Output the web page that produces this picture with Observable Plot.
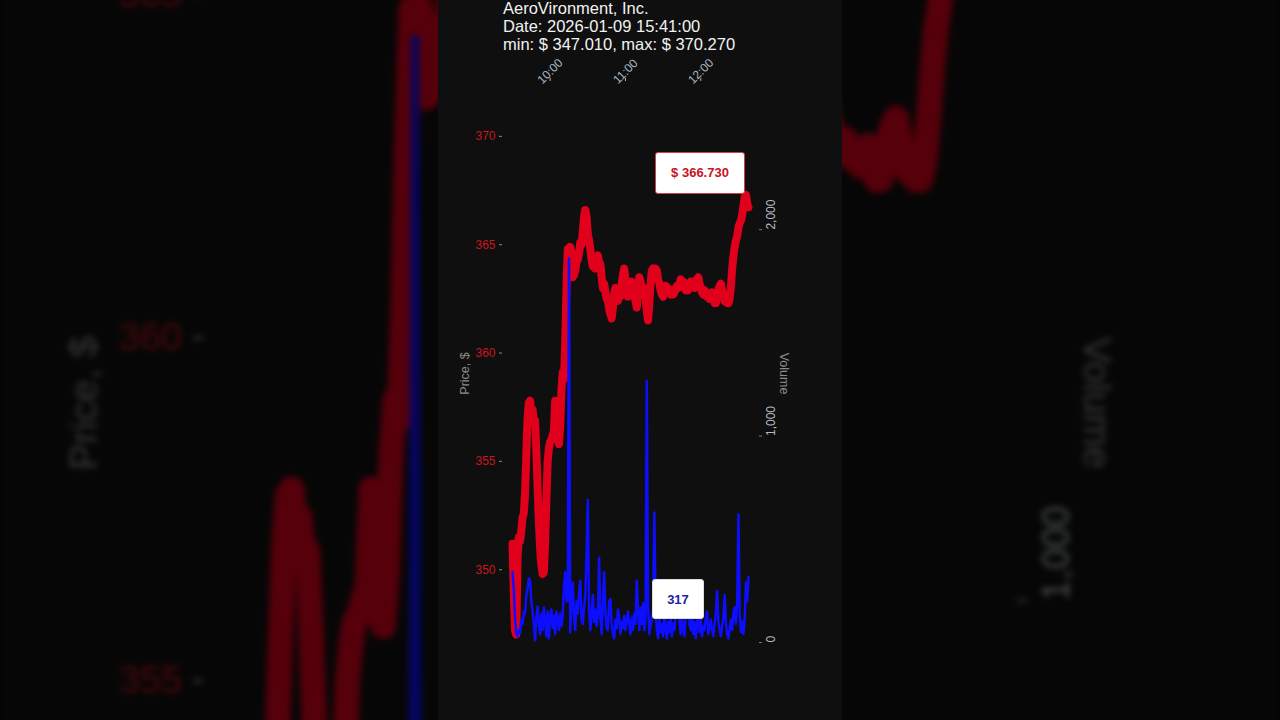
<!DOCTYPE html>
<html>
<head>
<meta charset="utf-8">
<script src="https://cdn.jsdelivr.net/npm/d3@7"></script>
<script src="https://cdn.jsdelivr.net/npm/@observablehq/plot@0.6"></script>
<style>
  html, body { margin: 0; padding: 0; width: 1280px; height: 720px; overflow: hidden; background: #000; }
  body { font-family: "Liberation Sans", Arial, sans-serif; }
  #bg { position: absolute; left: 438px; top: 0; width: 404px; height: 720px;
        transform: scale(3.1683); transform-origin: 202px 360px;
        filter: brightness(0.38) blur(1px); }
  #main { position: absolute; left: 438px; top: 0; width: 404px; height: 720px; overflow: hidden; }
  .panel { position: relative; width: 404px; height: 720px; background: #0f0f0f; overflow: hidden; }
  .panel svg { position: absolute; left: 0; top: 0; }
  .title { position: absolute; left: 65px; top: -1px; color: #f2f2f2; font-size: 16.5px; line-height: 18px; white-space: nowrap; }
  .box { position: absolute; background: #fff; border-radius: 3px; display: flex; align-items: center; justify-content: center;
         font-weight: bold; font-size: 13px; box-sizing: border-box; }
</style>
</head>
<body>
<div id="bg"></div>
<div id="main"></div>
<script>
// ---- data ----
const company = "AeroVironment, Inc.";
const dateLabel = "Date: 2026-01-09 15:41:00";
const rangeLabel = "min: $ 347.010, max: $ 370.270";
const priceAxisLabel = "Price, $";
const volumeAxisLabel = "Volume";
const startTime = "2026-01-09T09:30:00Z";
const endTime = "2026-01-09T12:38:00Z";
const xTickLabels = ["10:00", "11:00", "12:00"];
const priceTicks = [350, 355, 360, 365, 370];
const volumeTicks = [0, 1000, 2000];
const priceDomain = [347.01, 370.27];
const volumeDomain = [0, 2480];
const lastPriceLabel = "$ 366.730";
const lastVolumeLabel = "317";

// one value per minute from 09:30
const prices = [
  351.2, 349.0, 347.2, 347.01, 350.5, 351.5, 351.3, 351.8, 352.4, 352.6,
  353.5, 355.3, 357.0, 357.7, 357.8, 357.3, 357.4, 356.8, 356.9, 355.5,
  353.8, 352.2, 351.0, 350.2, 349.8, 349.9, 351.3, 353.2, 355.0, 355.6,
  355.9, 356.0, 356.2, 356.4, 357.8, 357.5, 356.0, 355.8, 356.6, 358.3,
  359.1, 358.8, 360.5, 363.0, 364.8, 364.5, 364.9, 364.6, 363.5, 363.6,
  363.8, 364.2, 364.3, 364.6, 365.1, 365.0, 365.6, 366.3, 366.6, 366.3,
  365.5, 365.2, 364.8, 364.3, 364.0, 364.1, 363.9, 364.4, 364.5, 364.2,
  364.1, 363.5, 363.0, 363.2, 362.8, 362.5, 362.4, 362.0, 361.8, 361.6,
  362.1, 362.7, 363.0, 362.6, 362.4, 362.8, 362.6, 363.2, 363.6, 363.9,
  363.4, 362.9, 362.6, 362.9, 363.1, 363.3, 363.2, 362.7, 362.4, 362.1,
  362.8, 363.5, 363.3, 363.0, 362.9, 363.0, 362.5, 361.9, 361.5, 362.3,
  363.2, 363.8, 363.9, 363.7, 363.9, 363.8, 363.4, 363.2, 362.9, 362.7,
  362.6, 362.9, 363.1, 363.0, 363.0, 362.8, 362.7, 362.9, 362.7, 362.8,
  363.0, 363.1, 363.0, 363.2, 363.4, 363.2, 363.3, 363.0, 362.9, 363.0,
  362.9, 363.1, 363.3, 363.1, 363.3, 363.0, 363.2, 363.4, 363.5, 363.2,
  363.0, 362.8, 362.7, 362.9, 362.8, 362.6, 362.7, 362.5, 362.6, 362.8,
  362.5, 362.3, 362.3, 362.6, 362.9, 363.1, 363.2, 362.9, 362.6, 362.4,
  362.4, 362.3, 362.3, 362.5, 363.1, 363.9, 364.5, 364.9, 365.2, 365.4,
  365.8, 366.0, 366.1, 366.4, 366.8, 367.2, 367.3, 366.9, 366.73
];
const volumes = [
  340, 260, 120, 40, 30, 60, 45, 110, 90, 150,
  140, 230, 260, 310, 300, 200, 150, 90, 10, 120,
  175, 90, 40, 140, 60, 170, 110, 30, 150, 20,
  120, 160, 70, 130, 40, 150, 110, 60, 140, 80,
  130, 270, 340, 200, 200, 1860, 50, 200, 290, 120,
  60, 200, 140, 240, 300, 110, 90, 170, 230, 420,
  690, 160, 60, 140, 230, 100, 160, 80, 140, 410,
  120, 40, 190, 340, 150, 70, 60, 200, 210, 90,
  40, 20, 110, 70, 160, 120, 40, 100, 70, 130,
  60, 110, 150, 90, 40, 120, 60, 140, 90, 300,
  150, 60, 170, 90, 190, 60, 120, 1265, 180, 40,
  80, 120, 160, 630, 150, 60, 20, 110, 50, 90,
  30, 140, 60, 20, 100, 50, 130, 30, 90, 60,
  150, 180, 300, 100, 40, 120, 70, 30, 140, 200,
  300, 90, 60, 130, 40, 100, 20, 90, 140, 50,
  110, 30, 80, 60, 120, 150, 40, 80, 110, 60,
  30, 90, 140, 250, 100, 60, 30, 80, 120, 230,
  90, 40, 20, 70, 110, 60, 150, 170, 90, 200,
  620, 130, 50, 100, 40, 120, 290, 200, 317
];

// ---- build table ----
const t0 = new Date(startTime);
const rows = prices.map((p, i) => ({ t: new Date(+t0 + i * 60000), price: p, volume: volumes[i] }));
const xTicks = xTickLabels.map(s => new Date(`2026-01-09T${s}:00Z`));

function build(host, withOverlays) {
  const panel = document.createElement("div");
  panel.className = "panel";
  host.appendChild(panel);

  if (withOverlays) {
    const title = document.createElement("div");
    title.className = "title";
    title.innerHTML = [company, dateLabel, rangeLabel].map(s => `<div>${s}</div>`).join("");
    panel.appendChild(title);
  }

  const font = "'Liberation Sans', Arial, sans-serif";
  const common = {
    width: 404, height: 720,
    marginLeft: 64, marginRight: 84, marginTop: 80,
    insetLeft: 10, insetRight: 10, insetTop: 50,
    style: { background: "transparent", fontFamily: font, fontSize: "12px", overflow: "visible" }
  };
  const xDomain = [new Date(startTime), new Date(endTime)];

  const pricePlot = Plot.plot({
    ...common,
    marginBottom: 86,
    x: { type: "utc", domain: xDomain },
    y: { domain: priceDomain },
    marks: [
      Plot.axisX(xTicks, { anchor: "top", tickFormat: d3.utcFormat("%H:%M"), tickSize: 3, tickPadding: 6,
        tickRotate: -45, textAnchor: "middle", lineAnchor: "middle", color: "#a9b6c3", label: null }),
      Plot.axisY(priceTicks, { anchor: "left", tickSize: 3, tickPadding: 4, stroke: "#8a8a8a", fill: "#c8161e", label: null }),
      Plot.text([priceAxisLabel], { text: d => d, frameAnchor: "left", textAnchor: "middle", dx: -38, dy: 16, rotate: -90, fill: "#8c8c8c", fontSize: 12.5 }),
      Plot.line(rows, { x: "t", y: "price", stroke: "#e0001b", strokeWidth: 8, strokeLinejoin: "round", strokeLinecap: "round" })
    ]
  });
  panel.appendChild(pricePlot);

  const volPlot = Plot.plot({
    ...common,
    marginBottom: 78,
    x: { type: "utc", domain: xDomain, axis: null },
    y: { domain: volumeDomain },
    marks: [
      Plot.axisY(volumeTicks, { anchor: "right", tickSize: 3, tickPadding: 10, tickRotate: -90, textAnchor: "start",
        lineAnchor: "middle", tickFormat: d3.format(","), stroke: "#777", fill: "#b3bcc5", label: null }),
      Plot.text([volumeAxisLabel], { text: d => d, frameAnchor: "right", textAnchor: "middle", dx: 25.5, dy: 12, rotate: 90, fill: "#8c8c8c", fontSize: 12.5 }),
      Plot.line(rows, { x: "t", y: "volume", stroke: "#0d0dff", strokeWidth: 2.5, strokeLinejoin: "round" })
    ]
  });
  panel.appendChild(volPlot);

  if (!withOverlays) return;

  // value labels, placed through the plots' scales
  const last = rows[rows.length - 1];
  const lx = pricePlot.scale("x").apply(last.t);
  const ly = pricePlot.scale("y").apply(last.price);
  const vy = volPlot.scale("y").apply(last.volume);

  function addBox(text, cx, cy, w, h, color, border) {
    const b = document.createElement("div");
    b.className = "box";
    b.textContent = text;
    Object.assign(b.style, { left: (cx - w / 2) + "px", top: (cy - h / 2) + "px", width: w + "px", height: h + "px",
      color, border: "1px solid " + border });
    panel.appendChild(b);
  }
  addBox(lastPriceLabel, lx - 48, ly - 34, 90, 42, "#c8141e", "#d04040");
  addBox(lastVolumeLabel, lx - 70, vy + 22.5, 52, 40, "#1e1e9c", "#dddddd");
}

build(document.getElementById("bg"), false);
build(document.getElementById("main"), true);
</script>
</body>
</html>
